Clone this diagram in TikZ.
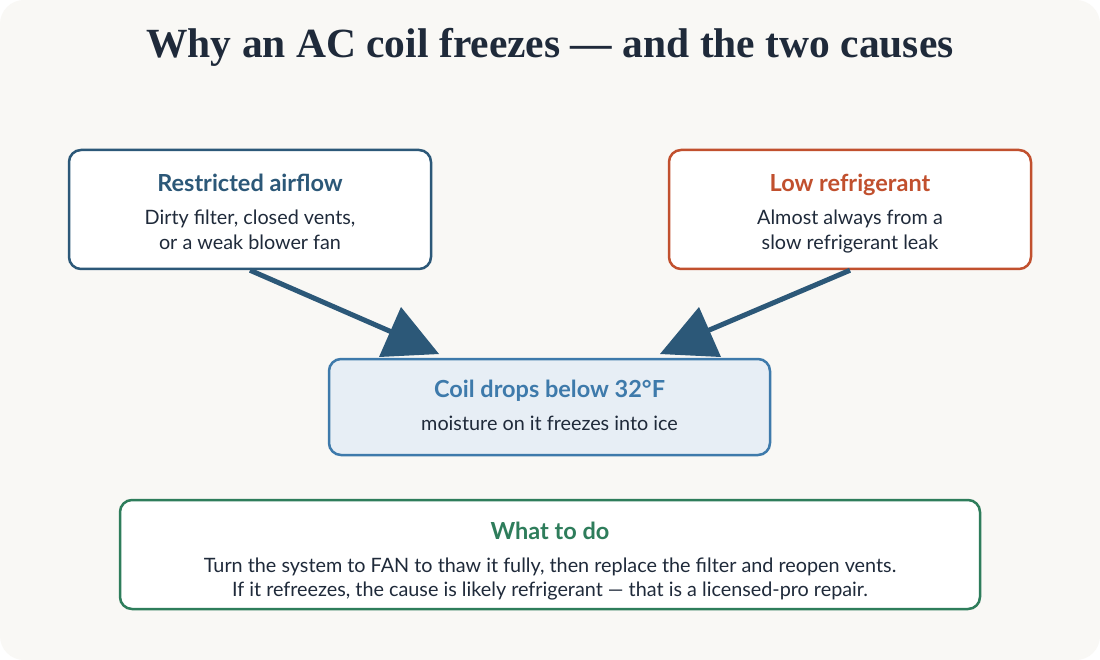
\documentclass[tikz,border=0pt]{standalone}
\usepackage{fontspec}
\setmainfont{Lato}
\newfontfamily\titlefont{Liberation Serif}
\usepackage{xcolor}

\definecolor{paper}{HTML}{F9F8F5}
\definecolor{ink}{HTML}{1F2A3A}
\definecolor{airblue}{HTML}{2C5878}
\definecolor{leakred}{HTML}{C1502E}
\definecolor{coilblue}{HTML}{3E7AAB}
\definecolor{coilfill}{HTML}{E7EEF5}
\definecolor{fixgreen}{HTML}{2E7D5B}

\begin{document}
\begin{tikzpicture}[x=1pt, y=-1pt, line width=2.5pt,
    box/.style={rounded corners=12pt, fill=white, inner sep=0pt},
    head/.style={anchor=base, font=\fontsize{23.5}{28}\selectfont\bfseries},
    body/.style={anchor=base, text=ink, font=\fontsize{19.8}{24}\selectfont},
    link/.style={draw=airblue, line width=5pt}]

% Background
\fill[white] (0,0) rectangle (1100,660);
\fill[paper, rounded corners=24pt] (0,0) rectangle (1100,660);
\useasboundingbox (0,0) rectangle (1100,660);

\node[anchor=base, text=ink, font=\titlefont\bfseries\fontsize{41.5}{46}\selectfont]
    (title) at (550,58) {Why an AC coil freezes — and the two causes};

% Causes
\node[
    box,
    draw=airblue,
    minimum width=362pt,
    minimum height=119pt
] (air) at (250,209.5) {};
\node[head, text=airblue] (airhead) at (250,192) {Restricted airflow};
\node[body] (airtxt1) at (250,225) {Dirty filter, closed vents,};
\node[body] (airtxt2) at (250,250) {or a weak blower fan};

\node[
    box,
    draw=leakred,
    minimum width=362pt,
    minimum height=119pt
] (leak) at (850,209.5) {};
\node[head, text=leakred] (leakhead) at (850,192) {Low refrigerant};
\node[body] (leaktxt1) at (850,225) {Almost always from a};
\node[body] (leaktxt2) at (850,250) {slow refrigerant leak};

% Frozen coil
\node[
    box,
    draw=coilblue,
    fill=coilfill,
    minimum width=441pt,
    minimum height=96pt
] (coil) at (549.5,407) {};
\node[head, text=coilblue] (coilhead) at (549.5,397) {Coil drops below 32°F};
\node[body] (coiltxt) at (549.5,430) {moisture on it freezes into ice};

% What to do
\node[
    box,
    draw=fixgreen,
    minimum width=860pt,
    minimum height=109pt
] (fix) at (550,554.5) {};
\node[head, text=fixgreen] (fixhead) at (550,539) {What to do};
\node[body] (fixtxt1) at (550,572) {Turn the system to FAN to thaw it fully, then replace the filter and reopen vents.};
\node[body] (fixtxt2) at (550,596) {If it refreezes, the cause is likely refrigerant — that is a licensed-pro repair.};

% Arrows
\coordinate (airend) at (394,333);
\coordinate (leakend) at (707,331);
\draw[link] (air.south) -- (airend);
\draw[link] (leak.south) -- (leakend);
\fill[airblue] (401,307) -- (439,354) -- (379,357) -- cycle;
\fill[airblue] (699,307) -- (721,357) -- (660,354) -- cycle;

\end{tikzpicture}
\end{document}
